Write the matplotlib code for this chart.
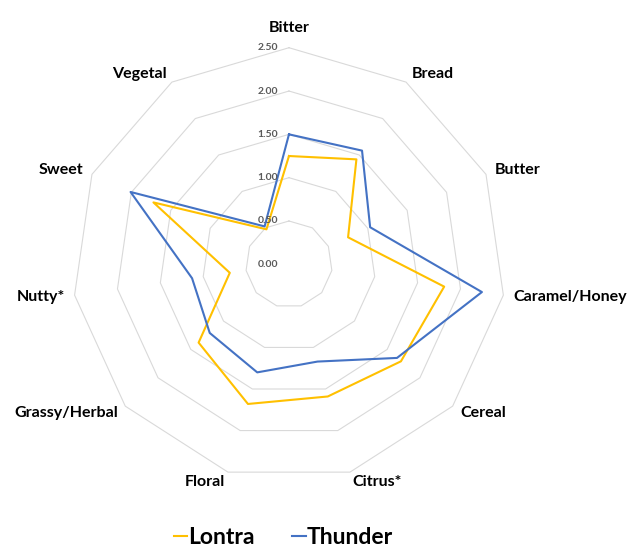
import numpy as np
import matplotlib
matplotlib.use('Agg')
import matplotlib.pyplot as plt

# 风味雷达图数据
categories = ['Bitter', 'Bread', 'Butter', 'Caramel/Honey', 'Cereal', 'Citrus*',
              'Floral', 'Grassy/Herbal', 'Nutty*', 'Sweet', 'Vegetal']
lontra = [1.25, 1.44, 0.75, 1.81, 1.71, 1.59, 1.68, 1.38, 0.69, 1.72, 0.48]
thunder = [1.50, 1.56, 1.03, 2.25, 1.65, 1.17, 1.30, 1.21, 1.13, 2.01, 0.52]
levels = [0.5, 1.0, 1.5, 2.0, 2.5]
tick_labels = ['0.00', '0.50', '1.00', '1.50', '2.00', '2.50']

plt.rcParams['font.family'] = ['Lato', 'DejaVu Sans']


def radar_chart():
    fig = plt.figure(figsize=(6.31, 5.47), dpi=100)
    ax = fig.add_axes([0.1147, 0.1208, 0.6865, 0.7920], projection='polar')
    ax.set_theta_zero_location('N')
    ax.set_theta_direction(-1)
    ax.set_ylim(0, 2.5)
    ax.axis('off')

    n = len(categories)
    theta = np.linspace(0, 2 * np.pi, n, endpoint=False)
    closed = np.append(theta, theta[0])

    # 多边形网格线
    for lv in levels:
        ax.plot(closed, [lv] * (n + 1), color='#d9d9d9', lw=0.8, clip_on=False, zorder=1)

    # 两个系列
    ax.plot(closed, lontra + lontra[:1], color='#FFC000', lw=1.5, clip_on=False, zorder=3,
            label='Lontra')
    ax.plot(closed, thunder + thunder[:1], color='#4472C4', lw=1.5, clip_on=False, zorder=3,
            label='Thunder')

    # 刻度标签
    for i, t in enumerate(tick_labels):
        ax.annotate(t, (0, i * 0.5), xytext=(-11, 0), textcoords='offset pixels',
                    ha='right', va='center', fontsize=7.5, fontweight='bold',
                    color='#595959', zorder=4)

    # 类别标签
    for th, name in zip(theta, categories):
        s, c = np.sin(th), np.cos(th)
        if abs(s) < 0.05:
            ax.annotate(name, (th, 2.5), xytext=(0, 16), textcoords='offset pixels',
                        ha='center', va='baseline', fontsize=11.5, fontweight='bold')
            continue
        ha = 'left' if s > 0 else 'right'
        ax.annotate(name, (th, 2.5), xytext=(10 * s, 10 * c), textcoords='offset pixels',
                    ha=ha, va='center', fontsize=11.5, fontweight='bold')

    fig.legend(loc='center', bbox_to_anchor=(0.449, 0.0165), ncol=2, frameon=False,
               handlelength=0.6, handletextpad=0.05, columnspacing=1.6,
               borderpad=0.1, prop={'size': 16.5, 'weight': 'bold'})

    fig.savefig('out.png', dpi=100, facecolor='white')


if __name__ == '__main__':
    radar_chart()
